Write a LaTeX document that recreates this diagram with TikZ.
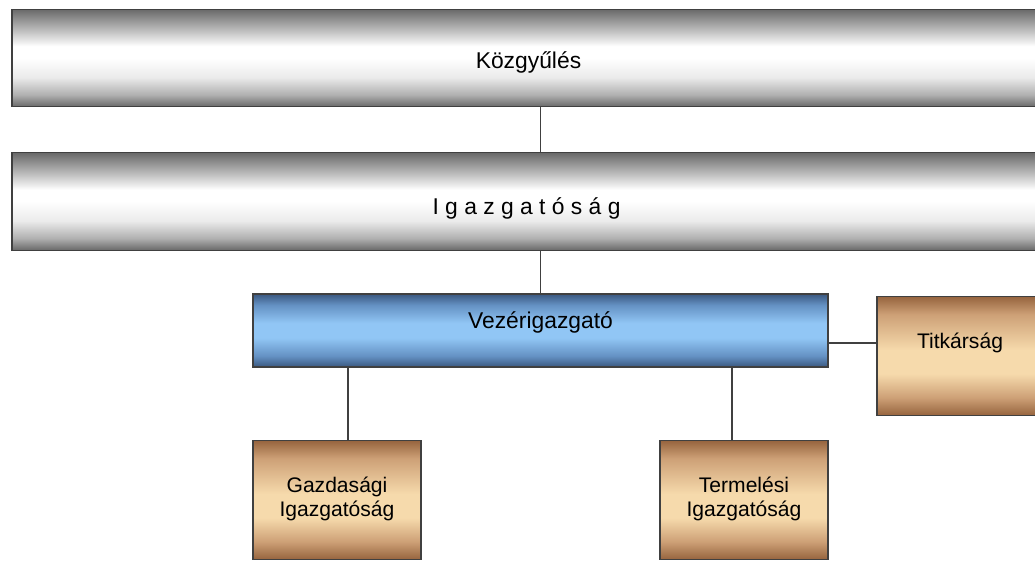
\documentclass[tikz,border=0pt]{standalone}
\usepackage{fontspec}
\setmainfont{Liberation Sans}
\definecolor{greyedge}{RGB}{105,105,105}
\definecolor{greysoft}{RGB}{175,175,175}
\definecolor{blueedge}{RGB}{58,88,128}
\definecolor{bluesoft}{RGB}{100,145,195}
\definecolor{bluemid}{RGB}{145,198,245}
\definecolor{brownedge}{RGB}{150,100,62}
\definecolor{brownsoft}{RGB}{205,160,118}
\definecolor{brownmid}{RGB}{246,218,172}
% the box is mapped onto 25bp..75bp of each shading
\pgfdeclareverticalshading{greyshade}{100bp}{color(0bp)=(greyedge); color(25bp)=(greyedge); color(31bp)=(greysoft);
  color(40bp)=(white!92!black); color(50bp)=(white); color(56bp)=(white); color(66bp)=(greysoft); color(75bp)=(greyedge); color(100bp)=(greyedge)}
\pgfdeclareverticalshading{blueshade}{100bp}{color(0bp)=(blueedge); color(25bp)=(blueedge); color(32.5bp)=(bluesoft);
  color(45bp)=(bluemid); color(55bp)=(bluemid); color(67.5bp)=(bluesoft); color(75bp)=(blueedge); color(100bp)=(blueedge)}
\pgfdeclareverticalshading{brownshade}{100bp}{color(0bp)=(brownedge); color(25bp)=(brownedge); color(32.5bp)=(brownsoft);
  color(42.5bp)=(brownmid); color(52.5bp)=(brownmid); color(67.5bp)=(brownsoft); color(75bp)=(brownedge); color(100bp)=(brownedge)}
\begin{document}
\begin{tikzpicture}[
  greybox/.style={draw=black!75,line width=0.8pt,rectangle,minimum height=1.95cm,minimum width=20.66cm,
    shading=greyshade},
  bluebox/.style={draw=black!75,line width=0.8pt,rectangle,minimum height=1.46cm,minimum width=11.5cm,
    shading=blueshade},
  brownbox/.style={draw=black!75,line width=0.8pt,rectangle,minimum height=2.38cm,minimum width=3.36cm,
    shading=brownshade},
  bigtext/.style={font=\fontsize{13}{15}\selectfont},
  smalltext/.style={align=center,font=\fontsize{12}{14}\selectfont},
  link/.style={draw=black!75,line width=0.8pt}]
\useasboundingbox (0,0) rectangle (20.7,11.2);
\node [greybox] (kozgy) at (10.57,10.04) {};
\node [bigtext] (kozgytext) at (10.57,9.96) {Közgyűlés};
\node [greybox] (igazg) at (10.57,7.17) {};
\node [bigtext] (igazgtext) at (10.53,7.03) {I g a z g a t ó s á g};
\node [bluebox] (vez) at (10.81,4.59) {};
\node [bigtext] (veztext) at (10.81,4.75) {Vezérigazgató};
\node [brownbox] (titk) at (19.22,4.08) {};
\node [smalltext] (titktext) at (19.2,4.34) {Titkárság};
\node [brownbox] (gazd) at (6.74,1.2) {};
\node [smalltext] (gazdtext) at (6.74,1.22) {Gazdasági\\Igazgatóság};
\node [brownbox] (term) at (14.88,1.2) {};
\node [smalltext] (termtext) at (14.88,1.22) {Termelési\\Igazgatóság};
% connectors
\draw [link] (vez.north |- kozgy.south) -- (vez.north |- igazg.north);
\draw [link] (vez.north |- igazg.south) -- (vez.north);
\draw [link] ([yshift=-0.25cm]vez.east) -- ([yshift=-0.25cm]vez.east -| titk.west);
\draw [link] ([xshift=0.22cm]gazd.north) -- ([xshift=0.22cm]gazd.north |- vez.south);
\draw [link] ([xshift=-0.24cm]term.north) -- ([xshift=-0.24cm]term.north |- vez.south);
\end{tikzpicture}
\end{document}
